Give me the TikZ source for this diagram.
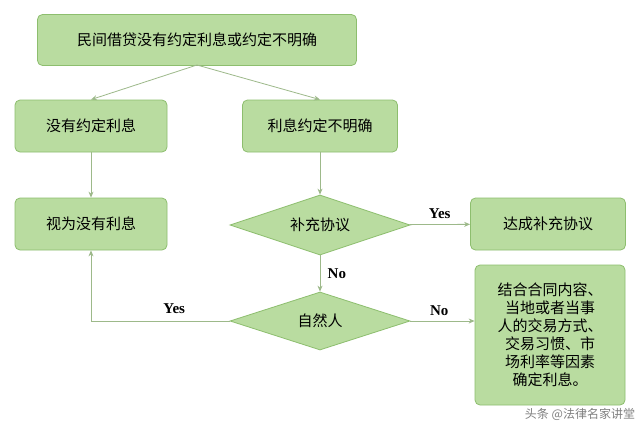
\documentclass[tikz,border=0pt]{standalone}
\usepackage{fontspec}
\setmainfont{Liberation Serif}
\newfontfamily\cjk{Noto Sans CJK SC}
\usetikzlibrary{shapes.geometric,arrows.meta}
\definecolor{gfill}{HTML}{B9DCA0}
\definecolor{gedge}{HTML}{8DBE6E}
\definecolor{lnk}{HTML}{9DB98A}
\tikzset{
 box/.style={draw=gedge,line width=0.8pt,fill=gfill,rounded corners=5pt,inner sep=0pt,font=\cjk\fontsize{15}{18}\selectfont},
 dia/.style={draw=gedge,line width=0.8pt,fill=gfill,diamond,aspect=3,inner sep=0pt,font=\cjk\fontsize{15}{18}\selectfont},
 con/.style={draw=lnk,line width=0.8pt,-{Stealth[length=6pt,width=5pt]}},
 lab/.style={font=\bfseries\fontsize{15}{18}\selectfont}
}
\begin{document}
\begin{tikzpicture}[x=1pt,y=-1pt]
\useasboundingbox (0,0) rectangle (640,431);
\fill[white] (0,0) rectangle (640,431);
\node[box,minimum width=319pt,minimum height=51pt] (top) at (197,40) {民间借贷没有约定利息或约定不明确};
\node[box,minimum width=152pt,minimum height=52pt] (a) at (91,126) {没有约定利息};
\node[box,minimum width=155pt,minimum height=52pt] (b) at (320,126) {利息约定不明确};
\node[box,minimum width=152pt,minimum height=52pt] (c) at (91,224) {视为没有利息};
\node[dia,minimum width=180pt,minimum height=60pt] (d1) at (320,225) {补充协议};
\node[box,minimum width=155pt,minimum height=52pt] (e) at (548,224) {达成补充协议};
\node[dia,minimum width=180pt,minimum height=58pt] (d2) at (320,321) {自然人};
\node[box,minimum width=150pt,minimum height=140pt,align=center] (f) at (550,335) {结合合同内容、\\当地或者当事\\人的交易方式、\\交易习惯、市\\场利率等因素\\确定利息。};
\coordinate (s) at (197,65);
\draw[con] (s) -- (a.north);
\draw[con] (s) -- (b.north);
\draw[con] (a) -- (c);
\draw[con] (b) -- (d1);
\draw[con] (d1) -- node[lab,above,yshift=2pt]{Yes} (e);
\draw[con] (d1) -- node[lab,right,xshift=4pt]{No} (d2);
\draw[con] (d2.west) -| node[lab,above,pos=0.2,yshift=4pt]{Yes} (c.south);
\draw[con] (d2.east) -- node[lab,above,pos=0.45,yshift=2pt]{No} (f.west |- d2.east);
\node[font=\cjk\fontsize{12}{14}\selectfont,text=gray] (wm) at (580,414) {头条 @法律名家讲堂};
\end{tikzpicture}
\end{document}
